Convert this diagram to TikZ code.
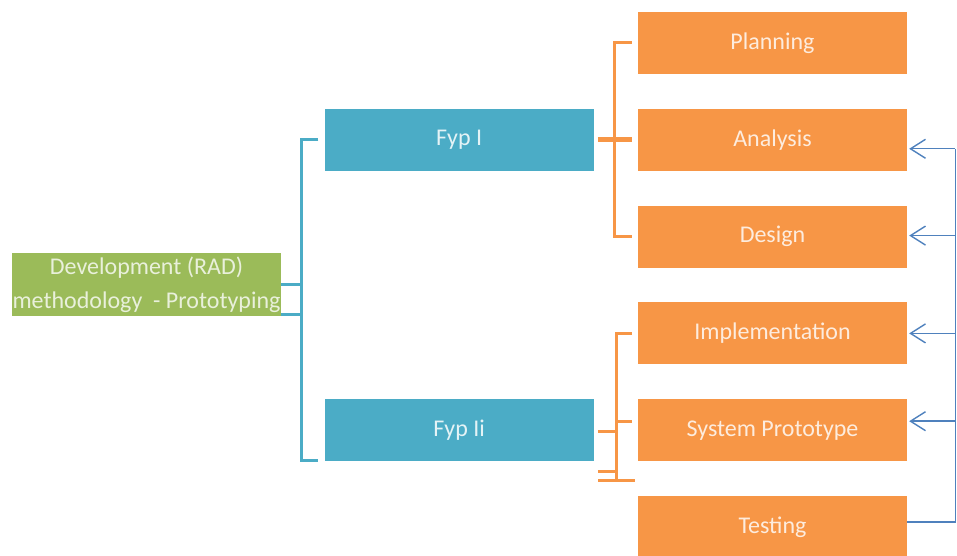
\documentclass[tikz,border=0pt]{standalone}
\usepackage{fontspec}
\setmainfont{Carlito}
\usetikzlibrary{arrows.meta, positioning, calc}

\definecolor{rado}{HTML}{F79646}
\definecolor{radb}{HTML}{4BACC6}
\definecolor{radg}{HTML}{9BBB59}
\definecolor{radl}{HTML}{4F81BD}

\begin{document}
\begin{tikzpicture}[
    x=1pt, y=1pt,
    node distance=34.4pt and 44pt,
    box/.style={rectangle, minimum width=269pt, minimum height=62pt, inner sep=0pt, align=center, font=\fontsize{24}{34}\selectfont},
    phase/.style={box, fill=rado, text=rado!18!white},
    fyp/.style={box, fill=radb, text=radb!15!white},
    root/.style={box, fill=radg, minimum height=63pt, text=radg!22!white},
    obrace/.style={draw=rado, line width=3pt},
    bbrace/.style={draw=radb, line width=3pt},
    back/.style={draw=radl, line width=1.4pt},
    arrow/.style={back, -{Straight Barb[length=15pt, width=19pt]}},
]
\useasboundingbox (0,0) rectangle (957,556);

% phases
\node[phase] (planning) at (772.5,513) {Planning};
\node[phase] (analysis) [below=of planning] {Analysis};
\node[phase] (design) [below=of analysis] {Design};
\node[phase] (implementation) [below=of design] {Implementation};
\node[phase] (prototype) [below=of implementation] {System Prototype};
\node[phase] (testing) [below=of prototype] {Testing};

% fyp parts and root
\node[fyp] (fyp1) [left=of analysis] {Fyp I};
\node[fyp] (fyp2) [left=of prototype] {Fyp Ii};
\node[root] (rad) at (146.5,271.5) {Development (RAD)\\methodology\ \ - Prototyping};

% blue bracket
\draw[bbrace] ([xshift=-6]fyp1.west) -- ++(-17,0) coordinate (bt) |- ([shift={(-6,1)}]fyp2.south west);
\draw[bbrace] (rad.east) -- (rad.east -| bt);
\coordinate (rk) at ([yshift=2]rad.south east);
\draw[bbrace] (rk) -- (rk -| bt);

% orange brackets
\draw[obrace] ([xshift=-6]planning.west) -- ++(-17,0) coordinate (ob1) |- ([xshift=-6]design.west);
\draw[obrace, line width=5pt] ([xshift=4]fyp1.east) -- ([xshift=-6]analysis.west);
\coordinate (ofoot) at (616,75);
\draw[obrace] ([xshift=-6]implementation.west) -| (ofoot);
\coordinate (pk) at ([shift={(-6,9)}]prototype.west);
\draw[obrace] (pk) -- (pk -| ofoot);
\draw[obrace] ([shift={(4,-1)}]fyp2.east) -- ++(18,0);
\draw[obrace] ([shift={(4,-41)}]fyp2.east) -- ++(18,0);
\draw[obrace] ([xshift=-18]ofoot) -- ++(37,0);

% feedback arrows
\coordinate (a1) at ([yshift=-9]analysis.east);
\draw[back] ([yshift=5]testing.east) -- ++(48,0) coordinate (lt) -- (lt |- a1);
\foreach \n/\s in {analysis/-9, design/1, implementation/0, prototype/9} {
  \coordinate (tip) at ([yshift=\s]\n.east);
  \draw[arrow] (tip -| lt) -- ([xshift=2]tip);
}

\end{tikzpicture}
\end{document}
